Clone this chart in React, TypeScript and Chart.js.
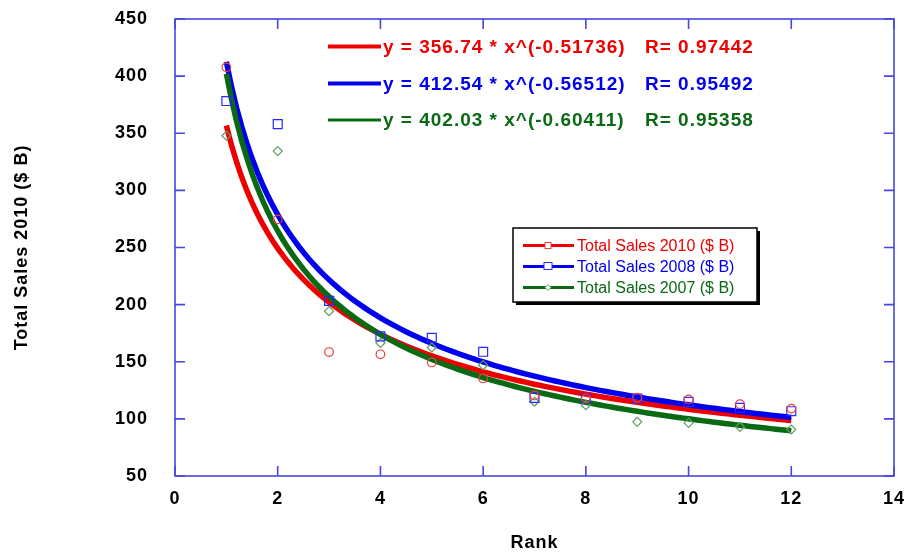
import React, { useEffect, useRef } from 'react';
import { Chart, registerables } from 'chart.js';
Chart.register(...registerables);

// ---- data ----
const ranks = [1, 2, 3, 4, 5, 6, 7, 8, 9, 10, 11, 12];
const sales2010 = [407.7, 274.6, 158.5, 156.5, 149.4, 135.4, 120.5, 118, 118.5, 117, 112.9, 109];
const sales2008 = [378.2, 358, 203.3, 172.2, 171, 158.7, 118.4, 117.8, 117.8, 114.9, 109.7, 106.7];
const sales2007 = [347.8, 334.4, 194.3, 166.5, 162.5, 147, 115, 112, 97.4, 96.5, 93, 90.7];
const seriesNames = ['Total Sales 2010 ($ B)', 'Total Sales 2008 ($ B)', 'Total Sales 2007 ($ B)'];
// power-law fits printed on the chart: y = a * x^b
const fitA = [356.74, 412.54, 402.03];
const fitB = [-0.51736, -0.56512, -0.60411];
const fitAText = ['356.74', '412.54', '402.03'];
const fitBText = ['-0.51736', '-0.56512', '-0.60411'];
const fitR = ['0.97442', '0.95492', '0.95358'];
const xTicks = [0, 2, 4, 6, 8, 10, 12, 14];
const yTicks = [50, 100, 150, 200, 250, 300, 350, 400, 450];

const FONT = 'Arial, "Liberation Sans", sans-serif';
const lineColors = ['#ee0000', '#0000ee', '#0a6a14'];
const markerColors = ['#f03c3c', '#2828ff', '#5e9e5e'];
const frameColor = '#4646e0';

const fitX: number[] = [];
for (let i = 0; i <= 110; i++) fitX.push(1 + i * 0.1);

const overlay = {
  id: 'overlay',
  beforeDraw(chart: any) {
    try { chart.ctx.letterSpacing = '1px'; } catch (e) {}
  },
  afterDatasetsDraw(chart: any) {
    const ctx = chart.ctx as CanvasRenderingContext2D;
    const { left, right, top, bottom } = chart.chartArea;
    const xs = chart.scales.x;
    const ys = chart.scales.y;
    ctx.save();
    // frame
    ctx.strokeStyle = frameColor;
    ctx.lineWidth = 1.6;
    ctx.strokeRect(left, top, right - left, bottom - top);
    // inward ticks on all sides
    const tl = 10;
    ctx.beginPath();
    yTicks.forEach((v) => {
      const py = ys.getPixelForValue(v);
      ctx.moveTo(left, py); ctx.lineTo(left + tl, py);
      ctx.moveTo(right, py); ctx.lineTo(right - tl, py);
    });
    xTicks.forEach((v) => {
      const px = xs.getPixelForValue(v);
      ctx.moveTo(px, bottom); ctx.lineTo(px, bottom - tl);
      ctx.moveTo(px, top); ctx.lineTo(px, top + tl);
    });
    ctx.stroke();

    // fit equations
    try { (ctx as any).letterSpacing = '1px'; } catch (e) {}
    const rowsY = [46.5, 83.5, 120];
    ctx.font = `bold 19px ${FONT}`;
    ctx.textBaseline = 'middle';
    ctx.textAlign = 'left';
    for (let i = 0; i < 3; i++) {
      const y = rowsY[i];
      ctx.strokeStyle = lineColors[i];
      ctx.lineWidth = i === 2 ? 3 : 4;
      ctx.beginPath();
      ctx.moveTo(328, y); ctx.lineTo(381, y);
      ctx.stroke();
      ctx.fillStyle = lineColors[i];
      ctx.fillText(`y = ${fitAText[i]} * x^(${fitBText[i]})`, 383, y + 1);
      ctx.fillText(`R= ${fitR[i]}`, 645, y + 1);
    }

    // series legend box
    const bx = 513, by = 228, bw = 244, bh = 74;
    ctx.fillStyle = '#000';
    ctx.fillRect(bx + 3, by + 3, bw, bh);
    ctx.fillStyle = '#fff';
    ctx.fillRect(bx, by, bw, bh);
    ctx.strokeStyle = '#000';
    ctx.lineWidth = 1.5;
    ctx.strokeRect(bx, by, bw, bh);
    const ly = [245.5, 266.5, 287.5];
    try { (ctx as any).letterSpacing = '0px'; } catch (e) {}
    ctx.font = `16px ${FONT}`;
    for (let i = 0; i < 3; i++) {
      const y = ly[i];
      ctx.strokeStyle = lineColors[i];
      ctx.lineWidth = 3;
      ctx.beginPath();
      ctx.moveTo(523, y); ctx.lineTo(574, y);
      ctx.stroke();
      ctx.lineWidth = 1;
      ctx.strokeStyle = markerColors[i];
      if (i === 0) {
        ctx.fillStyle = '#fff';
        ctx.fillRect(545, y - 3, 6, 6);
        ctx.strokeRect(545, y - 3, 6, 6);
      } else if (i === 1) {
        ctx.fillStyle = '#fff';
        ctx.fillRect(544, y - 4, 8, 7);
        ctx.strokeRect(544, y - 4, 8, 7);
      } else {
        ctx.fillStyle = '#fff';
        ctx.beginPath();
        ctx.moveTo(548, y - 3); ctx.lineTo(551, y); ctx.lineTo(548, y + 3); ctx.lineTo(545, y);
        ctx.closePath();
        ctx.fill(); ctx.stroke();
      }
      ctx.fillStyle = lineColors[i];
      ctx.fillText(seriesNames[i], 577, y + 1);
    }
    ctx.restore();
  },
};

export default function App() {
  const ref = useRef<HTMLCanvasElement | null>(null);
  useEffect(() => {
    if (!ref.current) return;
    Chart.defaults.font.family = FONT;
    const curves = [0, 1, 2].map((i) => ({
      type: 'scatter' as const,
      label: 'fit' + i,
      data: fitX.map((x) => ({ x, y: fitA[i] * Math.pow(x, fitB[i]) })),
      showLine: true,
      borderColor: lineColors[i],
      backgroundColor: lineColors[i],
      borderWidth: 5.5,
      pointRadius: 0,
      tension: 0,
      order: [4, 3, 2][i],
    }));
    const seriesData = [sales2010, sales2008, sales2007];
    const styles = ['circle', 'rect', 'rectRot'];
    const radii = [4.3, 6.3, 4.5];
    const points = [0, 1, 2].map((i) => ({
      type: 'scatter' as const,
      label: seriesNames[i],
      data: ranks.map((r, k) => ({ x: r, y: seriesData[i][k] })),
      showLine: false,
      pointStyle: styles[i],
      pointRadius: radii[i],
      pointBorderWidth: 1.2,
      pointBorderColor: markerColors[i],
      pointBackgroundColor: 'rgba(0,0,0,0)',
      order: 0,
    }));
    const chart = new Chart(ref.current, {
      type: 'scatter',
      data: { datasets: [...curves, ...points] as any },
      options: {
        responsive: false,
        animation: false,
        devicePixelRatio: 1,
        layout: { autoPadding: false, padding: { top: 19, right: 12, left: 0, bottom: 0 } },
        plugins: { legend: { display: false }, tooltip: { enabled: false } },
        scales: {
          x: {
            type: 'linear',
            min: 0,
            max: 14,
            grid: { display: false, drawTicks: false },
            border: { display: false },
            ticks: { stepSize: 2, padding: 12, color: '#000', font: { size: 18, weight: 'bold' } },
            title: { display: true, text: 'Rank', color: '#000', font: { size: 18, weight: 'bold' }, padding: { top: 0, bottom: 2 } },
            afterFit: (s: any) => { s.height = 80; s.paddingLeft = 0; s.paddingRight = 0; s.paddingTop = 0; s.paddingBottom = 0; },
          },
          y: {
            type: 'linear',
            min: 50,
            max: 450,
            grid: { display: false, drawTicks: false },
            border: { display: false },
            ticks: { stepSize: 50, padding: 27, color: '#000', font: { size: 18, weight: 'bold' } },
            title: { display: true, text: 'Total Sales 2010 ($ B)', color: '#000', font: { size: 18, weight: 'bold' }, padding: { top: 11, bottom: 0 } },
            afterFit: (s: any) => { s.width = 175; s.paddingLeft = 0; s.paddingRight = 0; s.paddingTop = 0; s.paddingBottom = 0; },
          },
        },
      },
      plugins: [overlay],
    });
    return () => chart.destroy();
  }, []);
  return (
    <div style={{ position: 'absolute', left: 0, top: 0, width: 906, height: 556, background: '#fff' }}>
      <canvas ref={ref} width={906} height={556} style={{ display: 'block' }} />
    </div>
  );
}
